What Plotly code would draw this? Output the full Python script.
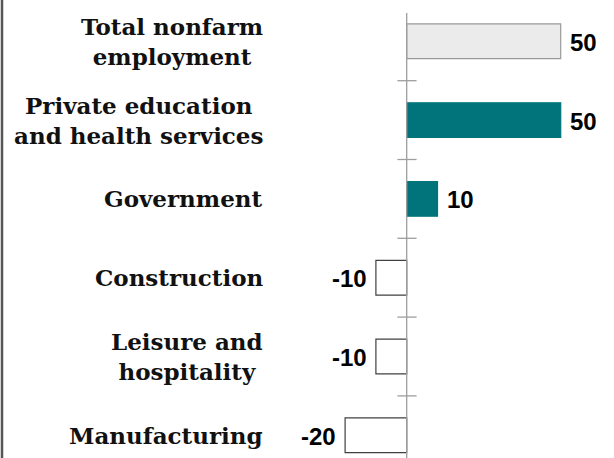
import plotly.graph_objects as go

categories = ["Total nonfarm employment", "Private education and health services",
              "Government", "Construction", "Leisure and hospitality", "Manufacturing"]
label_lines = ["Total nonfarm<br>employment", "Private education<br>and health services",
               "Government", "Construction", "Leisure and<br>hospitality", "Manufacturing"]
values = [50, 50, 10, -10, -10, -20]
value_labels = ["50", "50", "10", "-10", "-10", "-20"]

fill_colors = ["#ebebeb", "#00737b", "#00737b", "#ffffff", "#ffffff", "#ffffff"]
line_colors = ["#999999", "#00737b", "#00737b", "#404040", "#404040", "#404040"]

W, H = 614, 458
zero_px = 406.7
px_per_unit = 3.08
cat0_px = 41.3
px_per_cat = 78.8

x_range = [-zero_px / px_per_unit, (W - zero_px) / px_per_unit]
y_range = [(H - cat0_px) / px_per_cat, -cat0_px / px_per_cat]

fig = go.Figure()
fig.add_trace(go.Bar(
    x=values, y=categories, orientation="h",
    marker=dict(color=fill_colors, line=dict(color=line_colors, width=1.2)),
    hoverinfo="skip",
))

shapes = []
# zero axis line
shapes.append(dict(type="line", xref="x", yref="y", x0=0, x1=0,
                   y0=-0.36, y1=len(categories), line=dict(color="#9e9e9e", width=1.3), layer="above"))
# cross ticks between categories
for i in range(len(categories) - 1):
    shapes.append(dict(type="line", xref="x", yref="y", x0=-3.0, x1=3.2,
                       y0=i + 0.5, y1=i + 0.5, line=dict(color="#9e9e9e", width=1.3)))
# left border
shapes.append(dict(type="line", xref="paper", yref="paper", x0=2 / W, x1=2 / W,
                   y0=0, y1=1, line=dict(color="#555555", width=2.5)))

annotations = []
for i, (c, lab) in enumerate(zip(categories, label_lines)):
    annotations.append(dict(xref="paper", yref="y", x=265 / W, y=c, text=lab,
                            xanchor="right", yanchor="middle", align="center", showarrow=False,
                            font=dict(family="DejaVu Serif", size=23, color="#111111"),
                            ))
for c, v, t in zip(categories, values, value_labels):
    annotations.append(dict(xref="x", yref="y", x=v, y=c, text="<b>" + t + "</b>",
                            xanchor="left" if v >= 0 else "right", yanchor="middle",
                            xshift=7 if v >= 0 else -7, yshift=-1, showarrow=False,
                            font=dict(family="Liberation Sans, Arial", size=24, color="#000000")))

fig.update_layout(
    width=W, height=H,
    margin=dict(l=0, r=0, t=0, b=0),
    paper_bgcolor="white", plot_bgcolor="white",
    showlegend=False,
    bargap=0.56,
    xaxis=dict(range=x_range, visible=False, fixedrange=True),
    yaxis=dict(range=y_range, type="category", categoryorder="array", categoryarray=categories,
               visible=False, fixedrange=True),
    shapes=shapes,
    annotations=annotations,
    font=dict(family="DejaVu Serif"),
)
for a in fig.layout.annotations[:len(categories)]:
    a.text = "<b>" + a.text.replace("<br>", "</b><br><b>") + "</b>"

fig.write_html("out.html", config={"displayModeBar": False})
